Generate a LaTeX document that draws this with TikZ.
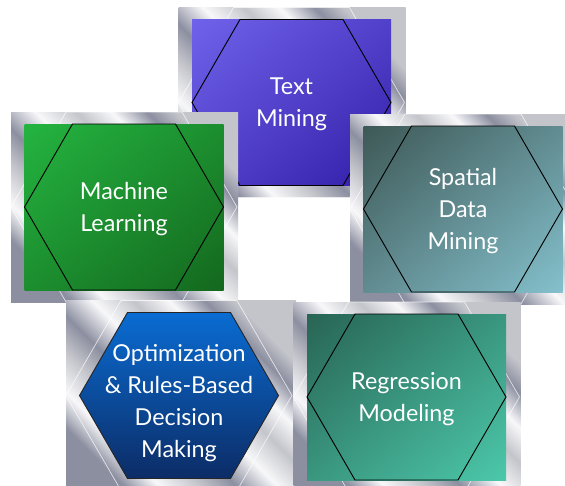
\documentclass[tikz,border=0pt]{standalone}
\usepackage{fontspec}
\setmainfont{Lato}
\usetikzlibrary{positioning}
\usetikzlibrary{shadings}
\definecolor{silverD}{RGB}{140,143,160}
\definecolor{silverM}{RGB}{196,197,203}
\definecolor{silverL}{RGB}{248,248,250}
\definecolor{textA}{RGB}{112,98,234}
\definecolor{textB}{RGB}{50,30,168}
\definecolor{machA}{RGB}{36,180,64}
\definecolor{machB}{RGB}{20,104,30}
\definecolor{spatA}{RGB}{62,88,86}
\definecolor{spatB}{RGB}{132,192,204}
\definecolor{optA}{RGB}{10,108,210}
\definecolor{optB}{RGB}{12,44,102}
\definecolor{regrA}{RGB}{40,100,84}
\definecolor{regrB}{RGB}{76,200,170}
\pgfdeclarehorizontalshading{silver}{100bp}{color(0bp)=(silverD); color(25bp)=(silverD);
  color(31bp)=(silverL); color(38bp)=(silverM); color(44bp)=(silverD); color(51bp)=(silverL);
  color(58bp)=(silverM); color(64bp)=(silverL); color(70bp)=(silverD); color(75bp)=(silverM);
  color(100bp)=(silverM)}
\tikzstyle{base}=[x=0.75pt, y=-0.75pt]
\tikzstyle{frame}=[shading=silver, shading angle=45]
\tikzstyle{ghost}=[draw=white, opacity=0.75, line width=0.5]
\tikzstyle{hexline}=[draw=black, line width=0.7]
\tikzstyle{hextext}=[text=white, align=center, inner sep=0pt, font=\fontsize{17.5}{24}\selectfont]

% frame with coloured square and hexagon: centre x, centre y, colour A, colour B, name, text
\newcommand*{\hexmodule}[6]{%
  \begin{scope}[shift={(#1,#2)}]
    \shade[frame] (-113,-95) rectangle (114,95);
    \draw[ghost] (-113,0) -- (-58,-95) -- (58,-95) -- (113,0) -- (58,95) -- (-58,95) -- cycle;
    \shade[upper left=#3, lower right=#4, upper right=#3!50!#4, lower left=#3!50!#4]
      (-99.5,-83) rectangle (99.5,83);
    \draw[hexline] (-99.5,0) -- (-51.5,-83) -- (51.5,-83) -- (99.5,0) -- (51.5,83) -- (-51.5,83) -- cycle;
    \node[hextext] (#5) at (0,2) {#6};
  \end{scope}}

\begin{document}
\begin{tikzpicture}[base]
    \useasboundingbox (0,0) rectangle (565,486);
    \hexmodule{291.5}{102.5}{textA}{textB}{text}{Text\\Mining}
    \hexmodule{124}{207}{machA}{machB}{machine}{Machine\\Learning}
    \hexmodule{463}{209}{spatA}{spatB}{spatial}{Spatial\\Data\\Mining}
    % optimization: no square, filled hexagon on the frame
    \begin{scope}[shift={(179,395.5)}]
        \shade[frame] (-113,-95) rectangle (117,95);
        \draw[ghost] (-113,0) -- (-58,-95) -- (58,-95) -- (113,0) -- (58,95) -- (-58,95) -- cycle;
        \shade[top color=optA, bottom color=optB, draw=black!85, line width=0.7]
            (-99.5,0) -- (-51.5,-83) -- (51.5,-83) -- (99.5,0) -- (51.5,83) -- (-51.5,83) -- cycle;
        \node[hextext] (optimization) at (0,8) {Optimization\\\&~Rules-Based\\Decision\\Making};
    \end{scope}
    \hexmodule{406.5}{397}{regrA}{regrB}{regression}{Regression\\Modeling}
\end{tikzpicture}
\end{document}
